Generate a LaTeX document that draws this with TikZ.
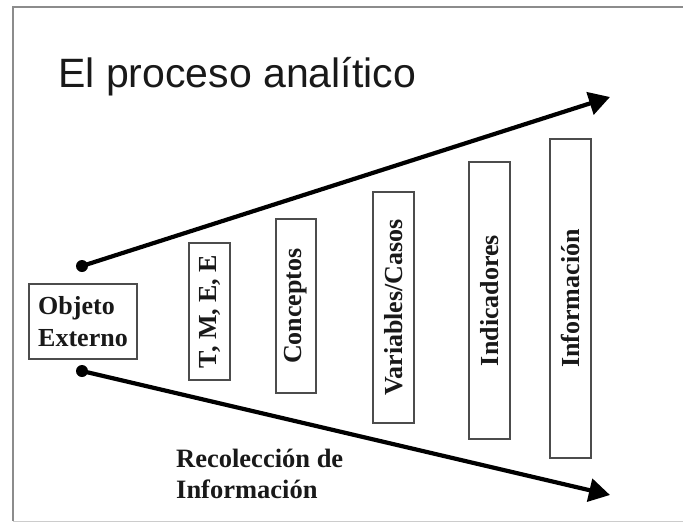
\documentclass[tikz,border=0pt]{standalone}
\usepackage{fontspec}
\setmainfont{Liberation Serif}
\newfontfamily\arialfont{Liberation Sans}
\usetikzlibrary{arrows.meta}
\tikzset{
  stagebox/.style={draw=black!70, line width=1.4pt, rotate=90, inner sep=0pt,
    font=\fontsize{26}{30}\selectfont\bfseries, text=black!90},
  boldlabel/.style={font=\fontsize{26.5}{31}\selectfont\bfseries, text=black!90, align=left, inner sep=0pt},
  flowline/.style={line width=4.2pt, black, -{Triangle[length=21pt,width=23pt]}},
  dotmark/.style={circle, fill=black, inner sep=0pt, minimum size=12pt},
}
\begin{document}
\begin{tikzpicture}[x=1pt,y=-1pt]
\useasboundingbox (0,0) rectangle (683,523);
\fill[white] (0,0) rectangle (683,523);
% frame
\draw[black!45, line width=2pt] (700,7) -- (13,7) -- (13,521);
\draw[black!20, line width=1pt] (13,521) -- (700,521);
% title
\node[anchor=base west, inner sep=0pt, font=\fontsize{41}{48}\selectfont\arialfont, text=black!90] (title) at (58,87) {El proceso analítico};
% object box
\node[draw=black!70, line width=1.4pt, minimum width=108pt, minimum height=75pt,
  font=\fontsize{26}{32}\selectfont\bfseries, align=left, text=black!90, inner xsep=8pt] (obj) at (83,321.5) {Objeto\\Externo};
% stage boxes
\node[stagebox, minimum width=137pt, minimum height=41pt] (tme) at (209.5,311.5) {T, M, E, E};
\node[stagebox, minimum width=174pt, minimum height=40pt] (conc) at (296,306) {Conceptos};
\node[stagebox, minimum width=231pt, minimum height=41pt] (vars) at (393.5,307.5) {Variables/Casos};
\node[stagebox, minimum width=277pt, minimum height=41pt] (ind) at (489.5,300.5) {Indicadores};
\node[stagebox, minimum width=319pt, minimum height=41pt] (info) at (570.5,298.5) {Información};
% arrows
\node[dotmark] (d1) at (82,266) {};
\node[dotmark] (d2) at (82,371) {};
\coordinate (t1) at (610,97);
\coordinate (t2) at (610,495);
\draw[flowline] (d1.center) -- (t1);
\draw[flowline] (d2.center) -- (t2);
% caption
\node[boldlabel, anchor=base west] (rec) at (176,498) {Recolección de\\Información};
\end{tikzpicture}
\end{document}
